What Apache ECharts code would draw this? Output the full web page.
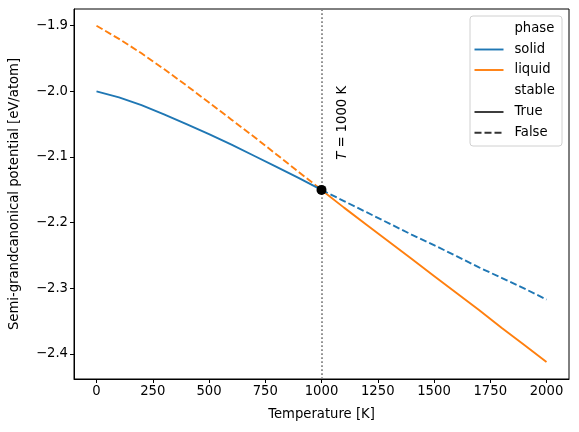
<!DOCTYPE html>
<html><head><meta charset="utf-8">
<script src="https://cdn.jsdelivr.net/npm/echarts@6/dist/echarts.min.js"></script>
<style>html,body{margin:0;padding:0;background:#fff}#c{width:579px;height:432px}</style>
</head><body><div id="c"></div>
<script>
const temps = [0,100,200,300,400,500,600,700,800,900,1000,1100,1200,1300,1400,1500,1600,1700,1800,1900,2000];
const solidPot = [-2.000,-2.009,-2.021,-2.035,-2.050,-2.065,-2.081,-2.098,-2.115,-2.132,-2.150,-2.167,-2.184,-2.201,-2.218,-2.234,-2.251,-2.268,-2.284,-2.300,-2.317];
const liquidPot = [-1.900,-1.920,-1.942,-1.966,-1.991,-2.017,-2.043,-2.069,-2.096,-2.123,-2.150,-2.177,-2.203,-2.229,-2.255,-2.281,-2.307,-2.333,-2.360,-2.386,-2.412];
const transitionT = 1000;
const transitionPot = -2.15;
const xTicks = [0,250,500,750,1000,1250,1500,1750,2000];
const yTicks = [-2.4,-2.3,-2.2,-2.1,-2.0,-1.9];
const legendItems = ['phase','solid','liquid','stable','True','False'];

const FONT = 'DejaVu Sans';
const FS = 13.2;
const BLUE = '#1f77b4', ORANGE = '#ff7f0e';
const pairs = (ys, pred) => temps.map((t,i)=>[t, ys[i]]).filter(p=>pred(p[0]));
const below = t => t <= transitionT, above = t => t >= transitionT;
const minus = v => String(v.toFixed(1)).replace('-', '\u2212');

const chart = echarts.init(document.getElementById('c'), null, {renderer:'canvas'});
const lineBase = {type:'line', showSymbol:false, symbol:'none', animation:false, z:3};
chart.setOption({
  animation:false,
  textStyle:{fontFamily:FONT},
  grid:{left:73, right:10, top:9, bottom:53, show:true, borderColor:'#000', borderWidth:1, backgroundColor:'transparent'},
  xAxis:{type:'value', min:-100, max:2100,
    name:'Temperature [K]', nameLocation:'middle', nameGap:29,
    nameTextStyle:{fontFamily:FONT, fontSize:FS, color:'#000'},
    axisLine:{onZero:false, lineStyle:{color:'#000', width:1}},
    axisTick:{show:true, length:4, lineStyle:{color:'#000'}, customValues:xTicks},
    axisLabel:{fontFamily:FONT, fontSize:FS, color:'#000', margin:6, customValues:xTicks, formatter:v=>String(v)},
    splitLine:{show:false}},
  yAxis:{type:'value', min:-2.438, max:-1.8745,
    name:'Semi-grandcanonical potential [eV/atom]', nameLocation:'middle', nameGap:53, nameRotate:90,
    nameTextStyle:{fontFamily:FONT, fontSize:FS, color:'#000'},
    axisLine:{show:true, onZero:false, lineStyle:{color:'#000', width:1}},
    axisTick:{show:true, length:4, lineStyle:{color:'#000'}, customValues:yTicks},
    axisLabel:{fontFamily:FONT, fontSize:FS, color:'#000', margin:6, customValues:yTicks, formatter:v=>minus(v)},
    splitLine:{show:false}},
  series:[
    Object.assign({}, lineBase, {name:'liquid unstable', data:pairs(liquidPot, below), lineStyle:{color:ORANGE, width:1.9, type:[7,3]}}),
    Object.assign({}, lineBase, {name:'liquid stable', data:pairs(liquidPot, above), lineStyle:{color:ORANGE, width:1.9}}),
    Object.assign({}, lineBase, {name:'solid stable', data:pairs(solidPot, below), lineStyle:{color:BLUE, width:1.9}}),
    Object.assign({}, lineBase, {name:'solid unstable', data:pairs(solidPot, above), lineStyle:{color:BLUE, width:1.9, type:[7,3]},
      markLine:{silent:true, symbol:'none', animation:false, label:{show:false},
        lineStyle:{color:'#808080', width:1.7, type:[1.7,2.3], opacity:1}, data:[{xAxis:transitionT}]}}),
    {type:'scatter', name:'transition', data:[[transitionT, transitionPot]], symbolSize:10, itemStyle:{color:'#000', opacity:1}, z:5, animation:false}
  ]
});

const ann = chart.convertToPixel({gridIndex:0}, [transitionT, -2.048]);
const g = [];
g.push({type:'text', x:ann[0]+21, y:ann[1], rotation:Math.PI/2, z:10,
  style:{text:'{i|T} = 1000 K', rich:{i:{fontStyle:'italic', fontFamily:FONT, fontSize:FS, fill:'#000'}},
    fontFamily:FONT, fontSize:FS, fill:'#000', align:'center', verticalAlign:'middle'}});
const lx = 470, ly = 16;
g.push({type:'rect', shape:{x:lx, y:ly, width:92, height:130, r:3}, z:20,
  style:{fill:'rgba(255,255,255,0.8)', stroke:'#d0d0d0', lineWidth:1}});
const rowY = [29, 49.5, 70, 91, 112, 132.7];
const handles = [null, {c:BLUE}, {c:ORANGE}, null, {c:'#333'}, {c:'#333', d:[7,3]}];
legendItems.forEach((txt,i)=>{
  if (handles[i]) g.push({type:'line', z:21, shape:{x1:474.5, y1:rowY[i], x2:503.5, y2:rowY[i]},
    style:{stroke:handles[i].c, lineWidth:1.9, lineDash:handles[i].d || null}});
  g.push({type:'text', z:21, x:514.5, y:rowY[i], style:{text:txt, fontFamily:FONT, fontSize:FS, fill:'#000', align:'left', verticalAlign:'middle'}});
});
chart.setOption({graphic:g});
</script></body></html>
